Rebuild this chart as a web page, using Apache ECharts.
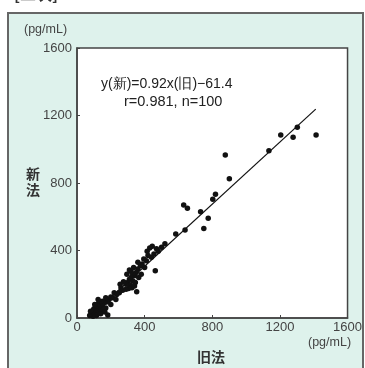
<!DOCTYPE html>
<html>
<head>
<meta charset="utf-8">
<script src="https://cdn.jsdelivr.net/npm/echarts@6/dist/echarts.min.js"></script>
<style>
  html, body { margin: 0; padding: 0; background: #fff; }
  #chart { width: 365px; height: 368px; }
</style>
</head>
<body>
<div id="chart"></div>
<script>
// old method (x) vs new method (y), pg/mL
const oldValues = [
  1414, 1303, 1278, 1205, 1135, 877, 901, 819, 803, 731,
  776, 750, 639, 631, 653, 584, 430, 445, 470, 500,
  480, 455, 463, 440, 420, 410, 395, 385, 400, 375,
  360, 350, 340, 330, 320, 330, 345, 310, 300, 315,
  325, 340, 353, 305, 290, 295, 320, 310, 365, 380,
  290, 270, 260, 250, 235, 220, 210, 200, 190, 180,
  175, 160, 150, 140, 130, 120, 150, 135, 125, 110,
  100, 95, 90, 85, 100, 110, 120, 130, 140, 150,
  160, 170, 182, 115, 95, 75, 80, 105, 140, 165,
  200, 230, 255, 275, 335, 360, 415, 520, 125, 170
]
const newValues = [
  1084, 1130, 1071, 1084, 991, 966, 825, 733, 703, 630,
  591, 531, 521, 670, 650, 498, 415, 425, 410, 420,
  395, 380, 280, 360, 370, 340, 350, 320, 300, 310,
  290, 270, 250, 260, 240, 220, 210, 230, 210, 195,
  180, 190, 156, 175, 200, 260, 275, 285, 240, 260,
  170, 165, 180, 150, 140, 150, 120, 125, 110, 100,
  95, 90, 100, 95, 90, 80, 70, 60, 70, 60,
  55, 45, 30, 20, 20, 35, 40, 30, 45, 40,
  50, 60, 18, 15, 10, 15, 40, 80, 25, 35,
  80, 110, 200, 215, 300, 330, 395, 440, 110, 120
]
const tickValues = [0, 400, 800, 1200, 1600]
const slope = 0.92
const intercept = -61.4
const lineRange = [70, 1412]

const points = oldValues.map((x, i) => [x, newValues[i]])
const fitLine = lineRange.map(x => [x, slope * x + intercept])

const chart = echarts.init(document.getElementById("chart"))
const font = "'Liberation Sans', Arial, sans-serif"
const cjk = "'Noto Sans CJK JP', sans-serif"

chart.setOption({
  animation: false,
  backgroundColor: "#fff",
  textStyle: { fontFamily: font },
  graphic: [
    {
      type: "text", left: 14, top: -14, z: 0,
      style: { text: "[二次]", font: "bold 16px " + cjk, fill: "#333" }
    },
    {
      type: "rect", z: -10,
      shape: { x: 8, y: 13, width: 355, height: 370 },
      style: { fill: "#def2ec", stroke: "#666", lineWidth: 2 }
    },
    {
      type: "text", left: 24, top: 23,
      style: { text: "(pg/mL)", font: "12.5px " + font, fill: "#444" }
    },
    {
      type: "text", left: 26, top: 166,
      style: { text: "新\n法", font: "bold 14px " + cjk, fill: "#333", lineHeight: 16 }
    },
    {
      type: "text", left: 197, top: 350,
      style: { text: "旧法", font: "bold 14px " + cjk, fill: "#333" }
    },
    {
      type: "text", left: 308, top: 336,
      style: { text: "(pg/mL)", font: "12.5px " + font, fill: "#444" }
    },
    {
      type: "text", left: 101, top: 77,
      style: { text: "y(新)=0.92x(旧)\u221261.4", font: "14px " + font, fill: "#222" }
    },
    {
      type: "text", left: 124, top: 94,
      style: { text: "r=0.981, n=100", font: "14.5px " + font, fill: "#222" }
    }
  ],
  grid: {
    left: 77, top: 48, right: 15, bottom: 50,
    show: true, backgroundColor: "#fff", borderColor: "#444", borderWidth: 1.5
  },
  xAxis: {
    type: "value", min: 0, max: 1600, interval: 400,
    axisLine: { show: true, onZero: false, lineStyle: { color: "#444", width: 1.5 } },
    axisTick: { show: true, inside: true, length: 3, lineStyle: { color: "#444" } },
    splitLine: { show: false },
    axisLabel: { color: "#444", fontSize: 13, margin: 3, showMinLabel: true, showMaxLabel: true,
      formatter: v => tickValues.includes(v) ? String(v) : "" }
  },
  yAxis: {
    type: "value", min: 0, max: 1600, interval: 400,
    axisLine: { show: true, onZero: false, lineStyle: { color: "#444", width: 1.5 } },
    axisTick: { show: true, inside: true, length: 3, lineStyle: { color: "#444" } },
    splitLine: { show: false },
    axisLabel: { color: "#444", fontSize: 13, margin: 5,
      formatter: v => tickValues.includes(v) ? String(v) : "" }
  },
  series: [
    {
      type: "scatter",
      data: points,
      symbolSize: 5.5,
      itemStyle: { color: "#111", opacity: 1 }
    },
    {
      type: "line",
      data: fitLine,
      symbol: "none",
      lineStyle: { color: "#111", width: 1.2 },
      z: 3
    }
  ]
})
</script>
</body>
</html>
